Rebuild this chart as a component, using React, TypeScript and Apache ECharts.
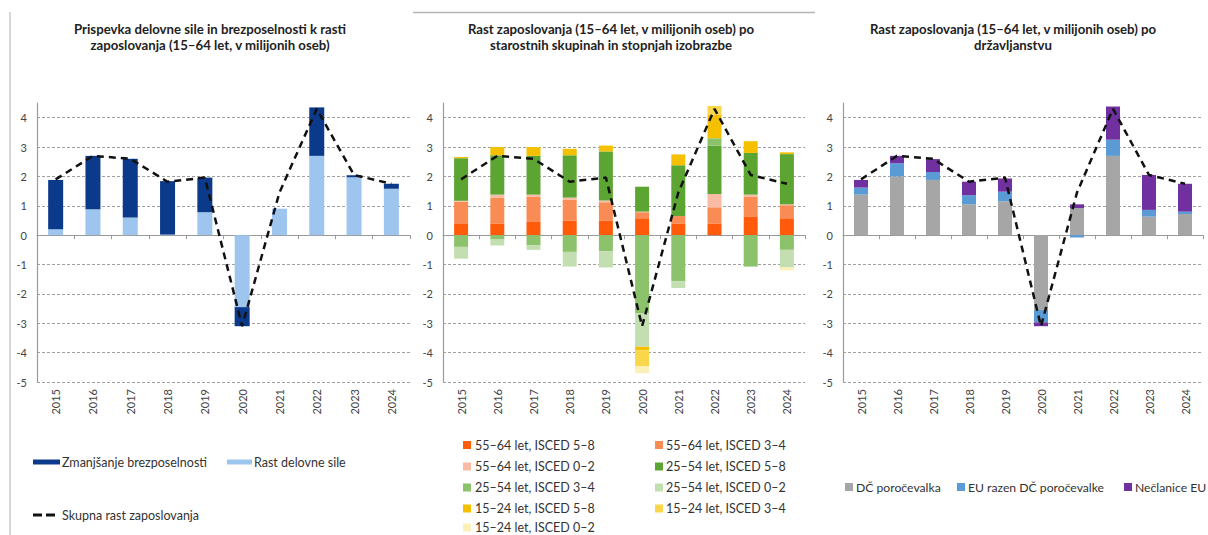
import React, { useEffect, useRef } from "react";
import * as echarts from "echarts";

const years = ["2015", "2016", "2017", "2018", "2019", "2020", "2021", "2022", "2023", "2024"];
const yTicks = [-5, -4, -3, -2, -1, 0, 1, 2, 3, 4];

// Total employment growth (dashed line), same in all three panels
const totalGrowth = [1.9, 2.7, 2.6, 1.82, 1.96, -3.1, 1.45, 4.3, 2.05, 1.75];

// Panel 1
const labourForceGrowth = [0.2, 0.88, 0.6, 0.02, 0.78, -2.45, 0.9, 2.7, 1.97, 1.58];
const unemploymentDecrease = [1.68, 1.82, 2.0, 1.82, 1.18, -0.65, 0.0, 1.65, 0.07, 0.17];

// Panel 2
const a5564_58 = [0.38, 0.4, 0.45, 0.5, 0.5, 0.55, 0.4, 0.4, 0.62, 0.55];
const a5564_34 = [0.76, 0.87, 0.85, 0.7, 0.62, 0.23, 0.25, 0.55, 0.68, 0.47];
const a5564_02 = [0.03, 0.11, 0.08, 0.08, 0.06, 0.02, 0.0, 0.45, 0.08, 0.03];
const a2554_58 = [1.45, 1.34, 1.32, 1.44, 1.67, 0.85, 1.73, 1.65, 1.42, 1.71];
const a2554_34 = [-0.4, -0.15, -0.35, -0.57, -0.55, -2.65, -1.57, 0.25, -1.07, -0.5];
const a2554_02 = [-0.4, -0.2, -0.15, -0.5, -0.55, -1.15, -0.23, 0.0, 0.0, -0.6];
const a1524_58 = [0.04, 0.28, 0.3, 0.22, 0.2, -0.12, 0.37, 0.8, 0.4, 0.06];
const a1524_34 = [0.0, 0.0, 0.0, 0.0, 0.0, -0.55, 0.0, 0.3, 0.0, 0.0];
const a1524_02 = [0.0, 0.0, 0.0, 0.0, 0.0, -0.23, 0.0, 0.0, 0.0, -0.1];

// Panel 3
const reportingCountry = [1.38, 2.0, 1.88, 1.05, 1.15, -2.55, 0.92, 2.7, 0.63, 0.72];
const otherEU = [0.24, 0.45, 0.27, 0.31, 0.33, -0.42, -0.08, 0.55, 0.23, 0.08];
const nonEU = [0.26, 0.25, 0.44, 0.46, 0.45, -0.13, 0.13, 1.13, 1.19, 0.95];

const FONT = 'Lato, "Open Sans", "Noto Sans", sans-serif';
const LINE_NAME = "Skupna rast zaposlovanja";

const panel2Series = [
  { name: "55–64 let, ISCED 5–8", data: a5564_58, color: "#FF5B0A" },
  { name: "55–64 let, ISCED 3–4", data: a5564_34, color: "#F98B55" },
  { name: "55–64 let, ISCED 0–2", data: a5564_02, color: "#F9BBA4" },
  { name: "25–54 let, ISCED 5–8", data: a2554_58, color: "#5DA532" },
  { name: "25–54 let, ISCED 3–4", data: a2554_34, color: "#8DC26C" },
  { name: "25–54 let, ISCED 0–2", data: a2554_02, color: "#C3DFB2" },
  { name: "15–24 let, ISCED 5–8", data: a1524_58, color: "#F5C000" },
  { name: "15–24 let, ISCED 3–4", data: a1524_34, color: "#FAD64A" },
  { name: "15–24 let, ISCED 0–2", data: a1524_02, color: "#FBF0B8" },
];

const panel3Series = [
  { name: "DČ poročevalka", data: reportingCountry, color: "#A6A6A6" },
  { name: "EU razen DČ poročevalke", data: otherEU, color: "#5B9BD5" },
  { name: "Nečlanice EU", data: nonEU, color: "#7030A0" },
];

const grids = [
  { left: 37, top: 103, width: 373, height: 279 },
  { left: 443, top: 103, width: 362, height: 279 },
  { left: 843, top: 103, width: 360, height: 279 },
];

function legendItem(name: string, left: number, centerY: number, w: number, h: number, icon: string, textShift: number, fontSize = 12.5) {
  return {
    left,
    top: centerY - 7,
    padding: 0,
    orient: "horizontal",
    itemWidth: w,
    itemHeight: h,
    icon,
    textStyle: { fontSize, color: "#333", fontFamily: FONT, lineHeight: 14, padding: [0, 0, 0, textShift] },
    data: [{ name, icon }],
    selectedMode: false,
  };
}

function buildOption(): any {
  const xAxis: any[] = [];
  const yAxis: any[] = [];
  grids.forEach((_, i) => {
    xAxis.push({
      type: "category",
      gridIndex: i,
      data: years,
      position: "bottom",
      axisLine: { show: false, onZero: false },
      axisTick: { show: false },
      axisLabel: { rotate: 90, fontSize: 11, color: "#444", fontFamily: FONT, margin: 7 },
      splitLine: { show: false },
    });
    xAxis.push({
      type: "category",
      gridIndex: i,
      data: years,
      position: "bottom",
      axisLine: { show: true, onZero: true, onZeroAxisIndex: i, lineStyle: { color: "#9a9a9a", width: 1.2 } },
      axisTick: { show: true, length: 4, inside: false, lineStyle: { color: "#9a9a9a" } },
      axisLabel: { show: false },
      splitLine: { show: false },
    });
    yAxis.push({
      type: "value",
      gridIndex: i,
      min: -5,
      max: 4.5,
      interval: 1,
      axisLine: { show: true, lineStyle: { color: "#9a9a9a", width: 1.2 } },
      axisTick: { show: false },
      axisLabel: {
        fontSize: 11,
        color: "#444",
        fontFamily: FONT,
        margin: 10,
        showMaxLabel: false,
        formatter: (v: number) => (yTicks.includes(v) ? String(v) : ""),
      },
      splitLine: { show: true, showMaxLine: false, lineStyle: { color: "#a0a0a0", type: [3, 2], width: 1 } },
    });
  });

  const series: any[] = [];
  series.push({
    name: "Rast delovne sile",
    type: "bar",
    xAxisIndex: 0,
    yAxisIndex: 0,
    stack: "p1",
    barWidth: 15,
    data: labourForceGrowth,
    itemStyle: { color: "#9EC5EE" },
  });
  series.push({
    name: "Zmanjšanje brezposelnosti",
    type: "bar",
    xAxisIndex: 0,
    yAxisIndex: 0,
    stack: "p1",
    barWidth: 15,
    data: unemploymentDecrease,
    itemStyle: { color: "#0C3A8B" },
  });
  panel2Series.forEach((s) => {
    series.push({
      name: s.name,
      type: "bar",
      xAxisIndex: 2,
      yAxisIndex: 1,
      stack: "p2",
      barWidth: 14,
      data: s.data,
      itemStyle: { color: s.color },
    });
  });
  panel3Series.forEach((s) => {
    series.push({
      name: s.name,
      type: "bar",
      xAxisIndex: 4,
      yAxisIndex: 2,
      stack: "p3",
      barWidth: 14,
      data: s.data,
      itemStyle: { color: s.color },
    });
  });
  [0, 2, 4].forEach((xi, i) => {
    series.push({
      name: LINE_NAME,
      type: "line",
      xAxisIndex: xi,
      yAxisIndex: i,
      data: totalGrowth,
      symbol: "none",
      z: 10,
      lineStyle: { color: "#111", width: 2.5, type: [7, 5] },
      itemStyle: { color: "#111" },
    });
  });

  const dashIcon = "path://M0,0 H9 V3 H0 Z M13,0 H22 V3 H13 Z";
  const rowY = [445, 466.5, 487.5, 508.5, 527.5];
  const col1 = [0, 2, 4, 6, 8];
  const col2 = [1, 3, 5, 7];

  const legend: any[] = [
    legendItem("Zmanjšanje brezposelnosti", 33, 462, 27, 5, "rect", -3),
    legendItem("Rast delovne sile", 227, 462, 25, 5, "rect", -3),
    legendItem(LINE_NAME, 33, 515, 22, 3, dashIcon, 2),
    ...col1.map((k, r) => legendItem(panel2Series[k].name, 463, rowY[r], 8, 8, "rect", -1)),
    ...col2.map((k, r) => legendItem(panel2Series[k].name, 655, rowY[r], 8, 8, "rect", -2)),
    legendItem(panel3Series[0].name, 845, 487, 8, 8, "rect", -2, 12.2),
    legendItem(panel3Series[1].name, 957, 487, 8, 8, "rect", -2, 12.2),
    legendItem(panel3Series[2].name, 1124, 487, 8, 8, "rect", -2, 12.2),
  ];

  const titleStyle = { fontSize: 13.2, fontWeight: "bold", fill: "#222", fontFamily: FONT, textAlign: "center", lineHeight: 16 };
  const graphic: any[] = [
    { type: "line", shape: { x1: 10, y1: 12, x2: 10, y2: 535 }, style: { stroke: "#c8c8c8", lineWidth: 1.5 } },
    { type: "line", shape: { x1: 413, y1: 12.5, x2: 815, y2: 12.5 }, style: { stroke: "#b4b4b4", lineWidth: 1.5 } },
    {
      type: "text",
      x: 210,
      y: 21,
      style: { ...titleStyle, text: "Prispevka delovne sile in brezposelnosti k rasti\nzaposlovanja (15–64 let, v milijonih oseb)" },
    },
    {
      type: "text",
      x: 611,
      y: 21,
      style: { ...titleStyle, text: "Rast zaposlovanja (15–64 let, v milijonih oseb) po\nstarostnih skupinah in stopnjah izobrazbe" },
    },
    {
      type: "text",
      x: 1013,
      y: 21,
      style: { ...titleStyle, text: "Rast zaposlovanja (15–64 let, v milijonih oseb) po\ndržavljanstvu" },
    },
  ];

  return {
    animation: false,
    backgroundColor: "#ffffff",
    grid: grids,
    xAxis,
    yAxis,
    series,
    legend,
    graphic,
  };
}

export default function App() {
  const ref = useRef<HTMLDivElement>(null);
  useEffect(() => {
    document.body.style.margin = "0";
    if (!ref.current) return;
    const chart = echarts.init(ref.current, null, { renderer: "svg" });
    chart.setOption(buildOption());
    return () => chart.dispose();
  }, []);
  return <div ref={ref} style={{ width: 1208, height: 535 }} />;
}
